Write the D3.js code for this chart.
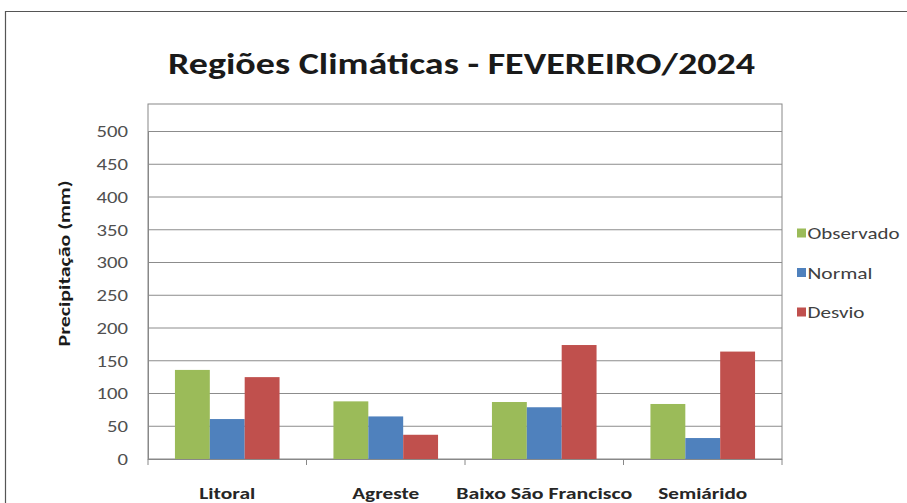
<!DOCTYPE html>
<html><head><meta charset="utf-8">
<script src="https://cdn.jsdelivr.net/npm/d3@7"></script>
<style>body{margin:0;background:#fff}svg{display:block}text{font-family:Carlito,Lato,"Open Sans",sans-serif}</style>
</head><body>
<script>
const categories = ["Litoral", "Agreste", "Baixo São Francisco", "Semiárido"];
const seriesNames = ["Observado", "Normal", "Desvio"];
const observado = [136, 88, 87, 84];
const normal = [61, 65, 79, 32];
const desvio = [125, 37, 174, 164];
const yTicks = [0, 50, 100, 150, 200, 250, 300, 350, 400, 450, 500];
const colors = ["#9BBB59", "#4F81BD", "#C0504D"];
const title = "Regiões Climáticas - FEVEREIRO/2024";
const yTitle = "Precipitação (mm)";

(function () {
const W = 907, H = 503;
const svg = d3.select("body").append("svg").attr("width", W).attr("height", H);
svg.append("rect").attr("width", W).attr("height", H).attr("fill", "#fff");
// outer border
svg.append("path").attr("d", `M5.5,${H} L5.5,11.5 L${W},11.5`).attr("fill", "none").attr("stroke", "#555").attr("stroke-width", 1.2);

const pLeft = 148, pRight = 782, pTop = 104, y0 = 459;
const y = d3.scaleLinear().domain([0, 500]).range([y0, 131.5]);
const x0 = d3.scaleBand().domain(categories).range([pLeft, pRight]).paddingInner(0.34).paddingOuter(0.17);
const x1 = d3.scaleBand().domain(seriesNames).range([0, x0.bandwidth()]);
const xCat = d3.scaleBand().domain(categories).range([pLeft, pRight]);

// fit text horizontally to target width
function fit(sel, w) {
  sel.attr("textLength", w).attr("lengthAdjust", "spacingAndGlyphs");
}

// plot frame
svg.append("rect").attr("x", pLeft).attr("y", pTop).attr("width", pRight - pLeft).attr("height", y0 - pTop)
  .attr("fill", "none").attr("stroke", "#888").attr("stroke-width", 1);
// gridlines
svg.append("g").selectAll("line").data(yTicks.slice(1)).join("line")
  .attr("x1", pLeft).attr("x2", pRight).attr("y1", d => y(d)).attr("y2", d => y(d))
  .attr("stroke", "#8c8c8c").attr("stroke-width", 1);

// y axis
const yAxis = svg.append("g").attr("transform", `translate(${pLeft},0)`)
  .call(d3.axisLeft(y).tickValues(yTicks).tickSize(0).tickPadding(20));
yAxis.select(".domain").attr("stroke", "#888");
yAxis.selectAll("text").attr("font-size", 16.5).attr("fill", "#505050")
  .each(function (d) { fit(d3.select(this), String(d).length * 10.5); });
yAxis.selectAll("line").remove();

// bars
const data = [observado, normal, desvio];
const g = svg.append("g");
categories.forEach((c, i) => {
  g.selectAll(null).data(seriesNames).join("rect")
    .attr("x", s => x0(c) + x1(s))
    .attr("width", x1.bandwidth())
    .attr("y", (s, j) => y(data[j][i]))
    .attr("height", (s, j) => y0 - y(data[j][i]))
    .attr("fill", (s, j) => colors[j]);
});

// x axis
svg.append("line").attr("x1", pLeft).attr("x2", pRight).attr("y1", y0 + 0.5).attr("y2", y0 + 0.5).attr("stroke", "#888");
const xb = [...categories.map(c => xCat(c)), pRight];
svg.append("g").selectAll("line").data(xb).join("line")
  .attr("x1", d => d).attr("x2", d => d).attr("y1", y0).attr("y2", y0 + 6).attr("stroke", "#888");
const xw = [56, 67, 176, 89];
svg.append("g").selectAll("text").data(categories).join("text")
  .attr("x", c => xCat(c) + xCat.bandwidth() / 2).attr("y", 499)
  .attr("text-anchor", "middle").attr("font-size", 16.5).attr("font-weight", "bold").attr("fill", "#262626")
  .text(c => c)
  .each(function (c, i) { fit(d3.select(this), xw[i]); });

// y title
const yt = svg.append("text").attr("transform", `translate(70,263.5) rotate(-90)`)
  .attr("text-anchor", "middle").attr("font-size", 15.5).attr("font-weight", "bold").attr("fill", "#1a1a1a")
  .text(yTitle);
fit(yt, 166);

// title
const tt = svg.append("text").attr("x", 168).attr("y", 74).attr("text-anchor", "start")
  .attr("font-size", 29.5).attr("font-weight", "bold").attr("fill", "#1a1a1a").text(title);
fit(tt, 587);

// legend
const lw = [92, 65, 57];
const lg = svg.append("g").selectAll("g").data(seriesNames).join("g")
  .attr("transform", (d, i) => `translate(797,${233 + i * 39.5})`);
lg.append("rect").attr("x", 0).attr("y", -4.5).attr("width", 9).attr("height", 9).attr("fill", (d, i) => colors[i]);
lg.append("text").attr("x", 10.5).attr("y", 6).attr("font-size", 17).attr("fill", "#404040").text(d => d)
  .each(function (d, i) { fit(d3.select(this), lw[i]); });
})();
</script>
</body></html>
